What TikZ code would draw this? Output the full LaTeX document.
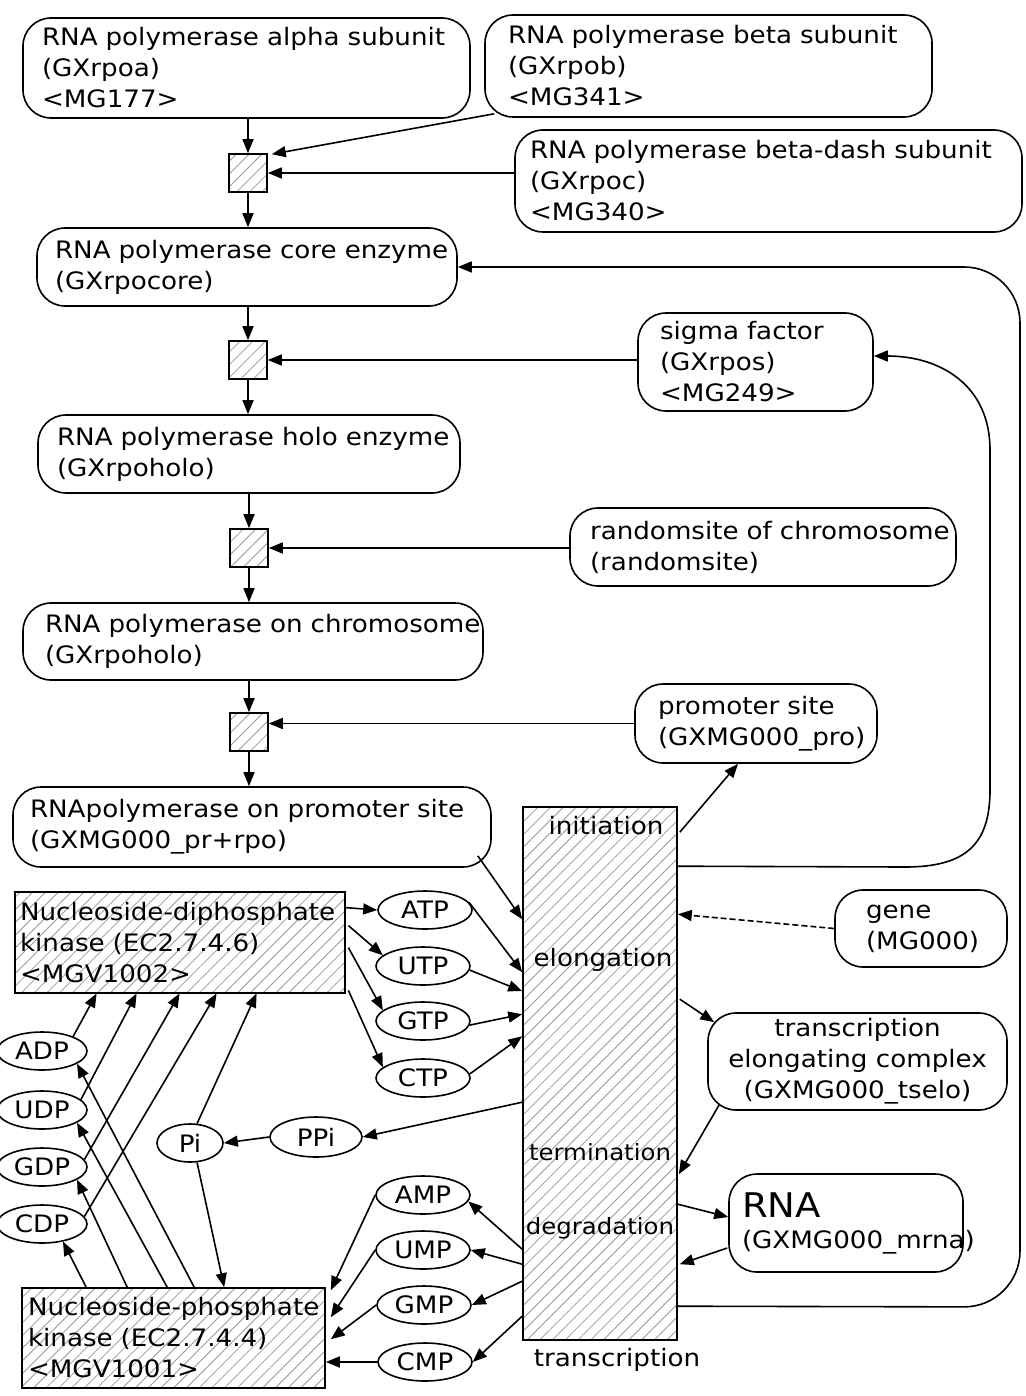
\documentclass[tikz,border=0pt]{standalone}
\usepackage{fontspec}
\setmainfont{DejaVu Sans}[FakeStretch=1.09]
\usetikzlibrary{arrows.meta,shapes.geometric,patterns.meta,calc}
\newcommand\oneln[1]{\mbox{#1}}
\begin{document}
\begin{tikzpicture}[x=0.5pt,y=-0.5pt,
  every node/.style={font=\fontsize{12}{15.5}\selectfont, line width=0.8pt},
  rbox/.style={draw, rounded corners=14pt, align=left, inner ysep=0pt},
  hatch/.style={pattern={Lines[angle=45,distance=4.5pt,line width=0.4pt]}, pattern color=black!40},
  sbox/.style={draw, hatch, align=left, inner ysep=0pt},
  sq/.style={draw, hatch, minimum size=19pt, inner sep=0pt},
  ell/.style={draw, ellipse, inner sep=0pt, minimum width=47pt, minimum height=19pt},
  lft/.style={draw, ellipse, inner sep=0pt, minimum width=45pt, minimum height=19pt},
  lbl/.style={inner sep=0pt},
  arr/.style={-{Triangle[length=7pt,width=5.5pt]}, line width=0.8pt}
]
\useasboundingbox (0,0) rectangle (1025,1396);

% ---------- rounded boxes ----------
\node[rbox, text width=204.5pt, inner xsep=9.5pt, minimum height=50pt] (alpha) at (246.5,68)
  {\oneln{RNA polymerase alpha subunit}\\\oneln{(GXrpoa)}\\\oneln{<MG177>}};
\node[rbox, text width=200.5pt, inner xsep=11.5pt, minimum height=51pt] (beta) at (708.5,66)
  {\oneln{RNA polymerase beta subunit}\\\oneln{(GXrpob)}\\\oneln{<MG341>}};
\node[rbox, text width=238.5pt, inner xsep=7.5pt, minimum height=51pt] (betadash) at (768.5,181)
  {\oneln{RNA polymerase beta-dash subunit}\\\oneln{(GXrpoc)}\\\oneln{<MG340>}};
\node[rbox, text width=192pt, inner xsep=9pt, minimum height=39pt] (core) at (247,267)
  {\oneln{RNA polymerase core enzyme}\\\oneln{(GXrpocore)}};
\node[rbox, text width=95.5pt, inner xsep=11pt, minimum height=49pt] (sigma) at (755.5,362)
  {\oneln{sigma factor}\\\oneln{(GXrpos)}\\\oneln{<MG249>}};
\node[rbox, text width=192pt, inner xsep=9.5pt, minimum height=39pt] (holo) at (249,454)
  {\oneln{RNA polymerase holo enzyme}\\\oneln{(GXrpoholo)}};
\node[rbox, text width=173pt, inner xsep=10pt, minimum height=39pt] (random) at (763,547)
  {\oneln{randomsite of chromosome}\\\oneln{(randomsite)}};
\node[rbox, text width=208pt, inner xsep=11pt, minimum height=38.5pt] (onchrom) at (253,641.5)
  {\oneln{RNA polymerase on chromosome}\\\oneln{(GXrpoholo)}};
\node[rbox, text width=98pt, inner xsep=11.5pt, minimum height=39.5pt] (promoter) at (756,723.5)
  {\oneln{promoter site}\\\oneln{(GXMG000\_pro)}};
\node[rbox, text width=222pt, inner xsep=8.5pt, minimum height=40pt] (prpro) at (252,827)
  {\oneln{RNApolymerase on promoter site}\\\oneln{(GXMG000\_pr+rpo)}};
\node[rbox, text width=55pt, inner xsep=15.5pt, minimum height=38.5pt] (gene) at (921,928.5)
  {\oneln{gene}\\\oneln{(MG000)}};
\node[rbox, align=center, minimum width=149.5pt, minimum height=48.5pt] (tselo) at (857.5,1061.5)
  {transcription\\elongating complex\\(GXMG000\_tselo)};
\node[rbox, text width=104pt, inner xsep=6.5pt, minimum height=49pt] (RNA) at (846,1223)
  {\oneln{\fontsize{17}{19}\selectfont RNA}\\\oneln{(GXMG000\_mrna)}};

% ---------- hatched boxes ----------
\node[sbox, text width=160pt, inner xsep=2.5pt, minimum height=50.5pt] (NDK) at (180,942.5)
  {\oneln{Nucleoside-diphosphate}\\\oneln{kinase (EC2.7.4.6)}\\\oneln{<MGV1002>}};
\node[sbox, text width=145.5pt, inner xsep=3pt, minimum height=50pt] (NPK) at (173.5,1338)
  {\oneln{Nucleoside-phosphate}\\\oneln{kinase (EC2.7.4.4)}\\\oneln{<MGV1001>}};
\node[sbox, minimum width=77pt, minimum height=266.5pt, inner sep=0pt] (trans) at (600,1073.5) {};
\node[lbl] (tinit) at (606,826) {initiation};
\node[lbl] (telong) at (603,960) {elongation};
\node[lbl, font=\fontsize{11.2}{14}\selectfont] (tterm) at (600,1152) {termination};
\node[lbl, font=\fontsize{11.2}{14}\selectfont] (tdeg) at (600,1228) {degradation};
\node[lbl] (ttrans) at (617,1360) {transcription};

% ---------- reaction squares ----------
\node[sq] (sq1) at (248,173) {};
\node[sq] (sq2) at (248,360) {};
\node[sq] (sq3) at (249,548) {};
\node[sq] (sq4) at (249,732) {};

% ---------- ellipses ----------
\node[ell] (ATP) at (425,910) {ATP};
\node[ell] (UTP) at (423,966) {UTP};
\node[ell] (GTP) at (423,1021) {GTP};
\node[ell] (CTP) at (423,1078) {CTP};
\node[ell] (AMP) at (423,1195) {AMP};
\node[ell] (UMP) at (423,1250) {UMP};
\node[ell] (GMP) at (424,1305) {GMP};
\node[ell] (CMP) at (425,1362) {CMP};
\node[ell, minimum width=46pt, minimum height=20pt] (PPi) at (316,1137) {PPi};
\node[ell, minimum width=33pt, minimum height=19pt] (Pi) at (190,1143) {Pi};
\node[lft] (ADP) at (42,1051) {ADP};
\node[lft] (UDP) at (42,1110) {UDP};
\node[lft] (GDP) at (42,1167) {GDP};
\node[lft] (CDP) at (42,1224) {CDP};

% ---------- main chain ----------
\draw[arr] (alpha.south -| sq1.north) -- (sq1.north);
\draw[arr] ($(beta.south west)+(10,-4)$) -- ($(sq1.north east)+(4,1)$);
\draw[arr] (betadash.west |- sq1.east) -- (sq1.east);
\draw[arr] (sq1.south) -- (sq1.south |- core.north);
\draw[arr] (sq2.north |- core.south) -- (sq2.north);
\draw[arr] (sigma.west |- sq2.east) -- (sq2.east);
\draw[arr] (sq2.south) -- (sq2.south |- holo.north);
\draw[arr] (sq3.north |- holo.south) -- (sq3.north);
\draw[arr] (random.west |- sq3.east) -- (sq3.east);
\draw[arr] (sq3.south) -- (sq3.south |- onchrom.north);
\draw[arr] (sq4.north |- onchrom.south) -- (sq4.north);
\draw[arr] (promoter.west) -- (promoter.west -| sq4.east);
\draw[arr] (sq4.south) -- (sq4.south |- prpro.north);
\draw[arr] ($(prpro.south east)+(-14,-12)$) -- ($(trans.north west)+(0,113)$);

% ---------- loops ----------
\draw[arr, rounded corners=28pt] ($(trans.north east)+(0,500)$) -- (1020,1307) -- (1020,267) -- (core.east);
\draw[arr] ($(trans.north east)+(0,60)$) -- (905,867) .. controls (965,867) and (990,845) .. (990,790)
  -- (990,450) .. controls (990,385) and (940,356) .. ($(sigma.east)+(0,-6)$);
\draw[arr] ($(trans.north east)+(2,26)$) -- ($(promoter.south)+(-18,0)$);
\draw[arr, dash pattern=on 3pt off 1.5pt] (gene.west) -- ($(trans.north east)+(0,108)$);
\draw[arr] ($(trans.north east)+(2,193)$) -- ($(tselo.north west)+(7,10)$);
\draw[arr] ($(tselo.south west)+(12,-6)$) -- ($(trans.north east)+(1,368)$);
\draw[arr] ($(trans.north east)+(0,398)$) -- ($(RNA.west)+(0,-6)$);
\draw[arr] ($(RNA.west)+(-1,25)$) -- ($(trans.north east)+(2,458)$);

% ---------- NDK and triphosphates ----------
\draw[arr] ($(NDK.north east)+(0,16)$) -- (ATP.west);
\draw[arr] ($(NDK.north east)+(3,34)$) -- (UTP.165);
\draw[arr] ($(NDK.north east)+(3,56)$) -- (GTP.165);
\draw[arr] ($(NDK.south east)+(3,-3)$) -- (CTP.165);
\draw[arr] (ATP.10) -- ($(trans.north west)+(0,166)$);
\draw[arr] (UTP.-5) -- ($(trans.north west)+(0,185)$);
\draw[arr] (GTP.-5) -- ($(trans.north west)+(0,208)$);
\draw[arr] (CTP.5) -- ($(trans.north west)+(0,230)$);

% ---------- PPi / Pi ----------
\draw[arr] ($(trans.north west)+(0,296)$) -- (PPi.east);
\draw[arr] (PPi.west) -- (Pi.east);
\draw[arr] (Pi.70) -- ($(NDK.south west)+(242,0)$);
\draw[arr] (Pi.-70) -- ($(NPK.north west)+(203,0)$);

% ---------- diphosphates ----------
\draw[arr] (ADP.25) -- ($(NDK.south west)+(82,0)$);
\draw[arr] (UDP.15) -- ($(NDK.south west)+(122,0)$);
\draw[arr] (GDP.10) -- ($(NDK.south west)+(165,0)$);
\draw[arr] (CDP.10) -- ($(NDK.south west)+(202,0)$);
\draw[arr] ($(NPK.north west)+(173,0)$) -- (ADP.-20);
\draw[arr] ($(NPK.north west)+(146,0)$) -- (UDP.-20);
\draw[arr] ($(NPK.north west)+(106,0)$) -- (GDP.-20);
\draw[arr] ($(NPK.north west)+(65,0)$) -- (CDP.-40);

% ---------- monophosphates ----------
\draw[arr] ($(trans.north west)+(0,443)$) -- (AMP.-8);
\draw[arr] ($(trans.north west)+(0,458)$) -- (UMP.east);
\draw[arr] ($(trans.north west)+(0,475)$) -- (GMP.east);
\draw[arr] ($(trans.north west)+(0,510)$) -- (CMP.east);
\draw[arr] (AMP.west) -- ($(NPK.north east)+(5,3)$);
\draw[arr] (UMP.west) -- ($(NPK.north east)+(5,30)$);
\draw[arr] (GMP.west) -- ($(NPK.north east)+(5,52)$);
\draw[arr] (CMP.west) -- (CMP.west -| NPK.east);
\end{tikzpicture}
\end{document}
